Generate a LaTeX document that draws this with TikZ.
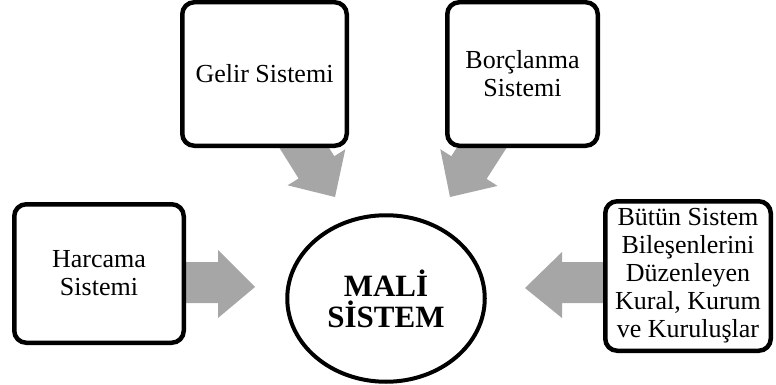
\documentclass[tikz,border=0pt]{standalone}
\usepackage{fontspec}
\setmainfont{Liberation Serif}
\usetikzlibrary{shapes.geometric}
\definecolor{arrowgray}{HTML}{A6A6A6}
\begin{document}
\begin{tikzpicture}[x=1pt,y=-1pt,
  box/.style={draw=black, line width=4.5pt, rounded corners=12pt, fill=white,
    align=center, inner sep=0pt, font=\fontsize{26}{28}\selectfont},
  center/.style={ellipse, draw=black, line width=4pt, fill=white, inner sep=0pt,
    align=center, font=\bfseries\fontsize{31}{31}\selectfont},
  blockarrow/.style={fill=arrowgray, draw=none}]
\useasboundingbox (0,0) rectangle (776,385);

% block arrows (drawn first, boxes cover the shaft ends)
\fill[blockarrow] (335,197) -- (287.6,185.3) -- (298.6,178.5) -- (277.4,144.6)
  -- (313.1,122.3) -- (334.3,156.2) -- (345.3,149.3) -- cycle;
\fill[blockarrow] (450,197) -- (440.3,149.2) -- (451.3,156.2) -- (472.9,122.6)
  -- (508.2,145.3) -- (486.6,178.9) -- (497.5,185.9) -- cycle;
\fill[blockarrow] (255,287) -- (218,250) -- (218,262) -- (180,262)
  -- (180,303) -- (218,303) -- (218,318) -- cycle;
\fill[blockarrow] (525,288) -- (562,252) -- (562,262) -- (610,262)
  -- (610,303) -- (562,303) -- (562,318) -- cycle;

\node[box, minimum width=164.5pt, minimum height=143.5pt] (gelir) at (264.5,74) {Gelir Sistemi};
\node[box, minimum width=150.5pt, minimum height=143.5pt] (borc) at (522.5,74) {Borçlanma\\Sistemi};
\node[box, minimum width=169.5pt, minimum height=138.5pt] (harcama) at (99,273.5) {Harcama\\Sistemi};
\node[box, minimum width=165.5pt, minimum height=149.5pt] (butun) at (688,276) {Bütün Sistem\\Bileşenlerini\\Düzenleyen\\Kural, Kurum\\ve Kuruluşlar};
\node[center, minimum width=197.5pt, minimum height=166.5pt] (mali) at (386,298.5) {MALİ\\SİSTEM};
\end{tikzpicture}
\end{document}
